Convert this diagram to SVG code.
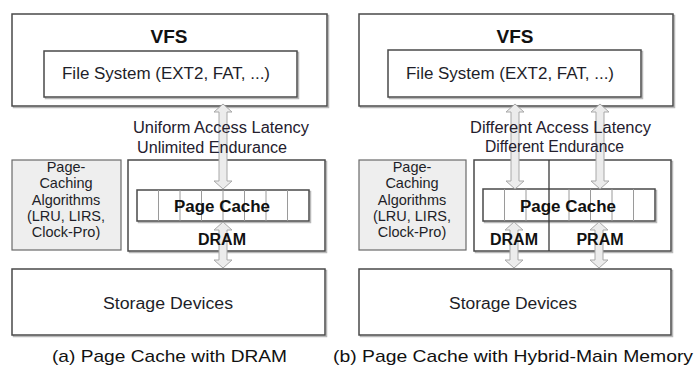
<svg xmlns="http://www.w3.org/2000/svg" width="694" height="365" viewBox="0 0 694 365">
<defs>
<style>
.box{fill:#ffffff;stroke:#4a4a4a;stroke-width:1.5}
.shadow{fill:none;stroke:#b8b8b8;stroke-width:1.5}
.algo{fill:#eeeeee;stroke:#6a6a6a;stroke-width:1.2}
.cell{stroke:#9a9a9a;stroke-width:1}
.div{stroke:#3a3a3a;stroke-width:1.3}
.arrow{fill:#ececec;stroke:#a8a8a8;stroke-width:1}
text{font-family:"Liberation Sans",Arial,sans-serif;fill:#1e1e28}
.t16{font-size:16px}
.t15{font-size:14.5px}
.b{font-weight:bold;fill:#111}
.vfs{font-size:19px;font-weight:bold;fill:#111}
.lbl{font-size:16px;fill:#24202e}
.cap{font-size:17px;fill:#111}
</style>
</defs>
<rect width="694" height="365" fill="#ffffff"/>

<!-- ===== Panel (a) ===== -->
<g id="vfs-a">
<rect class="shadow" x="13.5" y="15.5" width="315" height="92"/>
<rect class="box" x="12" y="14" width="315" height="92"/>
<text class="vfs" x="169" y="43" text-anchor="middle">VFS</text>
</g>
<g id="fs-a">
<rect class="shadow" x="45.5" y="52.5" width="253" height="46"/>
<rect class="box" x="44" y="51" width="253" height="46"/>
<text class="t16" x="62" y="79" textLength="208" lengthAdjust="spacingAndGlyphs">File System  (EXT2, FAT, ...)</text>
</g>
<g id="algo-a">
<rect class="algo" x="12" y="160" width="109" height="90"/>
<text class="t15" text-anchor="middle" x="66"><tspan x="66" y="172">Page-</tspan><tspan x="66" y="188">Caching</tspan><tspan x="66" y="204.5">Algorithms</tspan><tspan x="66" y="221">(LRU, LIRS,</tspan><tspan x="66" y="237">Clock-Pro)</tspan></text>
</g>
<g id="dram-a">
<rect class="shadow" x="129.5" y="161.5" width="197" height="91"/>
<rect class="box" x="128" y="160" width="197" height="91"/>
</g>
<g id="pagecache-a">
<rect class="shadow" x="138.5" y="191.5" width="172" height="31"/>
<rect class="box" x="137" y="190" width="172" height="31"/>
<path class="cell" d="M158.5 190V221M180 190V221M201.5 190V221M223 190V221M244.5 190V221M266 190V221M287.5 190V221"/>
</g>
<g id="storage-a">
<rect class="shadow" x="13.5" y="270.5" width="313" height="66"/>
<rect class="box" x="12" y="269" width="313" height="66"/>
<text class="t16" x="168" y="309" text-anchor="middle" textLength="130" lengthAdjust="spacingAndGlyphs">Storage  Devices</text>
</g>

<!-- ===== Panel (b) ===== -->
<g id="vfs-b">
<rect class="shadow" x="360.5" y="15.5" width="314" height="92"/>
<rect class="box" x="359" y="14" width="314" height="92"/>
<text class="vfs" x="515" y="43" text-anchor="middle">VFS</text>
</g>
<g id="fs-b">
<rect class="shadow" x="389.5" y="51.5" width="253" height="47"/>
<rect class="box" x="388" y="50" width="253" height="47"/>
<text class="t16" x="406" y="79" textLength="208" lengthAdjust="spacingAndGlyphs">File System  (EXT2, FAT, ...)</text>
</g>
<g id="algo-b">
<rect class="algo" x="359" y="160" width="107" height="90"/>
<text class="t15" text-anchor="middle" x="412"><tspan x="412" y="172">Page-</tspan><tspan x="412" y="188">Caching</tspan><tspan x="412" y="204.5">Algorithms</tspan><tspan x="412" y="221">(LRU, LIRS,</tspan><tspan x="412" y="237">Clock-Pro)</tspan></text>
</g>
<g id="memory-b">
<rect class="shadow" x="475.5" y="161.5" width="197" height="91"/>
<rect class="box" x="474" y="160" width="197" height="91"/>
</g>
<g id="pagecache-b">
<rect class="shadow" x="484.5" y="190.5" width="172" height="32"/>
<rect class="box" x="483" y="189" width="172" height="32"/>
<path class="cell" d="M504.5 189V221M526 189V221M569 189V221M590.5 189V221M612 189V221M633.5 189V221"/>
</g>
<g id="divider-b">
<path class="div" d="M549 160V251"/>
</g>
<g id="storage-b">
<rect class="shadow" x="360.5" y="270.5" width="312" height="66"/>
<rect class="box" x="359" y="269" width="312" height="66"/>
<text class="t16" x="513" y="309" text-anchor="middle" textLength="128" lengthAdjust="spacingAndGlyphs">Storage  Devices</text>
</g>

<!-- ===== Connectors ===== -->
<g id="connectors">
<path class="arrow" d="M223 104L232 112L227 112L227 181L232 181L223 189L214 181L219 181L219 112L214 112Z"/>
<path class="arrow" d="M223 222L232 230L227 230L227 260L232 260L223 268L214 260L219 260L219 230L214 230Z"/>
<path class="arrow" d="M515 104L524 112L519 112L519 181L524 181L515 189L506 181L511 181L511 112L506 112Z"/>
<path class="arrow" d="M600 104L609 112L604 112L604 181L609 181L600 189L591 181L596 181L596 112L591 112Z"/>
<path class="arrow" d="M514 222L523 230L518 230L518 260L523 260L514 268L505 260L510 260L510 230L505 230Z"/>
<path class="arrow" d="M599 222L608 230L603 230L603 260L608 260L599 268L590 260L595 260L595 230L590 230Z"/>
</g>

<!-- ===== Labels drawn over connectors ===== -->
<g id="labels">
<text class="lbl" x="133" y="133" textLength="176" lengthAdjust="spacingAndGlyphs">Uniform Access Latency</text>
<text class="lbl" x="137" y="153" textLength="150" lengthAdjust="spacingAndGlyphs">Unlimited Endurance</text>
<text class="lbl" x="470" y="133" textLength="181" lengthAdjust="spacingAndGlyphs">Different Access Latency</text>
<text class="lbl" x="485" y="152" textLength="139" lengthAdjust="spacingAndGlyphs">Different Endurance</text>
<text class="t16 b" x="222" y="212" text-anchor="middle" textLength="96" lengthAdjust="spacingAndGlyphs">Page Cache</text>
<text class="t16 b" x="222" y="245" text-anchor="middle">DRAM</text>
<text class="t16 b" x="568" y="212" text-anchor="middle" textLength="96" lengthAdjust="spacingAndGlyphs">Page Cache</text>
<text class="t16 b" x="514" y="245" text-anchor="middle">DRAM</text>
<text class="t16 b" x="600" y="245" text-anchor="middle">PRAM</text>
</g>

<g id="captions">
<text class="cap" x="52" y="362" textLength="235" lengthAdjust="spacingAndGlyphs">(a) Page Cache with  DRAM</text>
<text class="cap" x="333" y="362" textLength="360" lengthAdjust="spacingAndGlyphs">(b) Page Cache with  Hybrid-Main Memory</text>
</g>
</svg>
